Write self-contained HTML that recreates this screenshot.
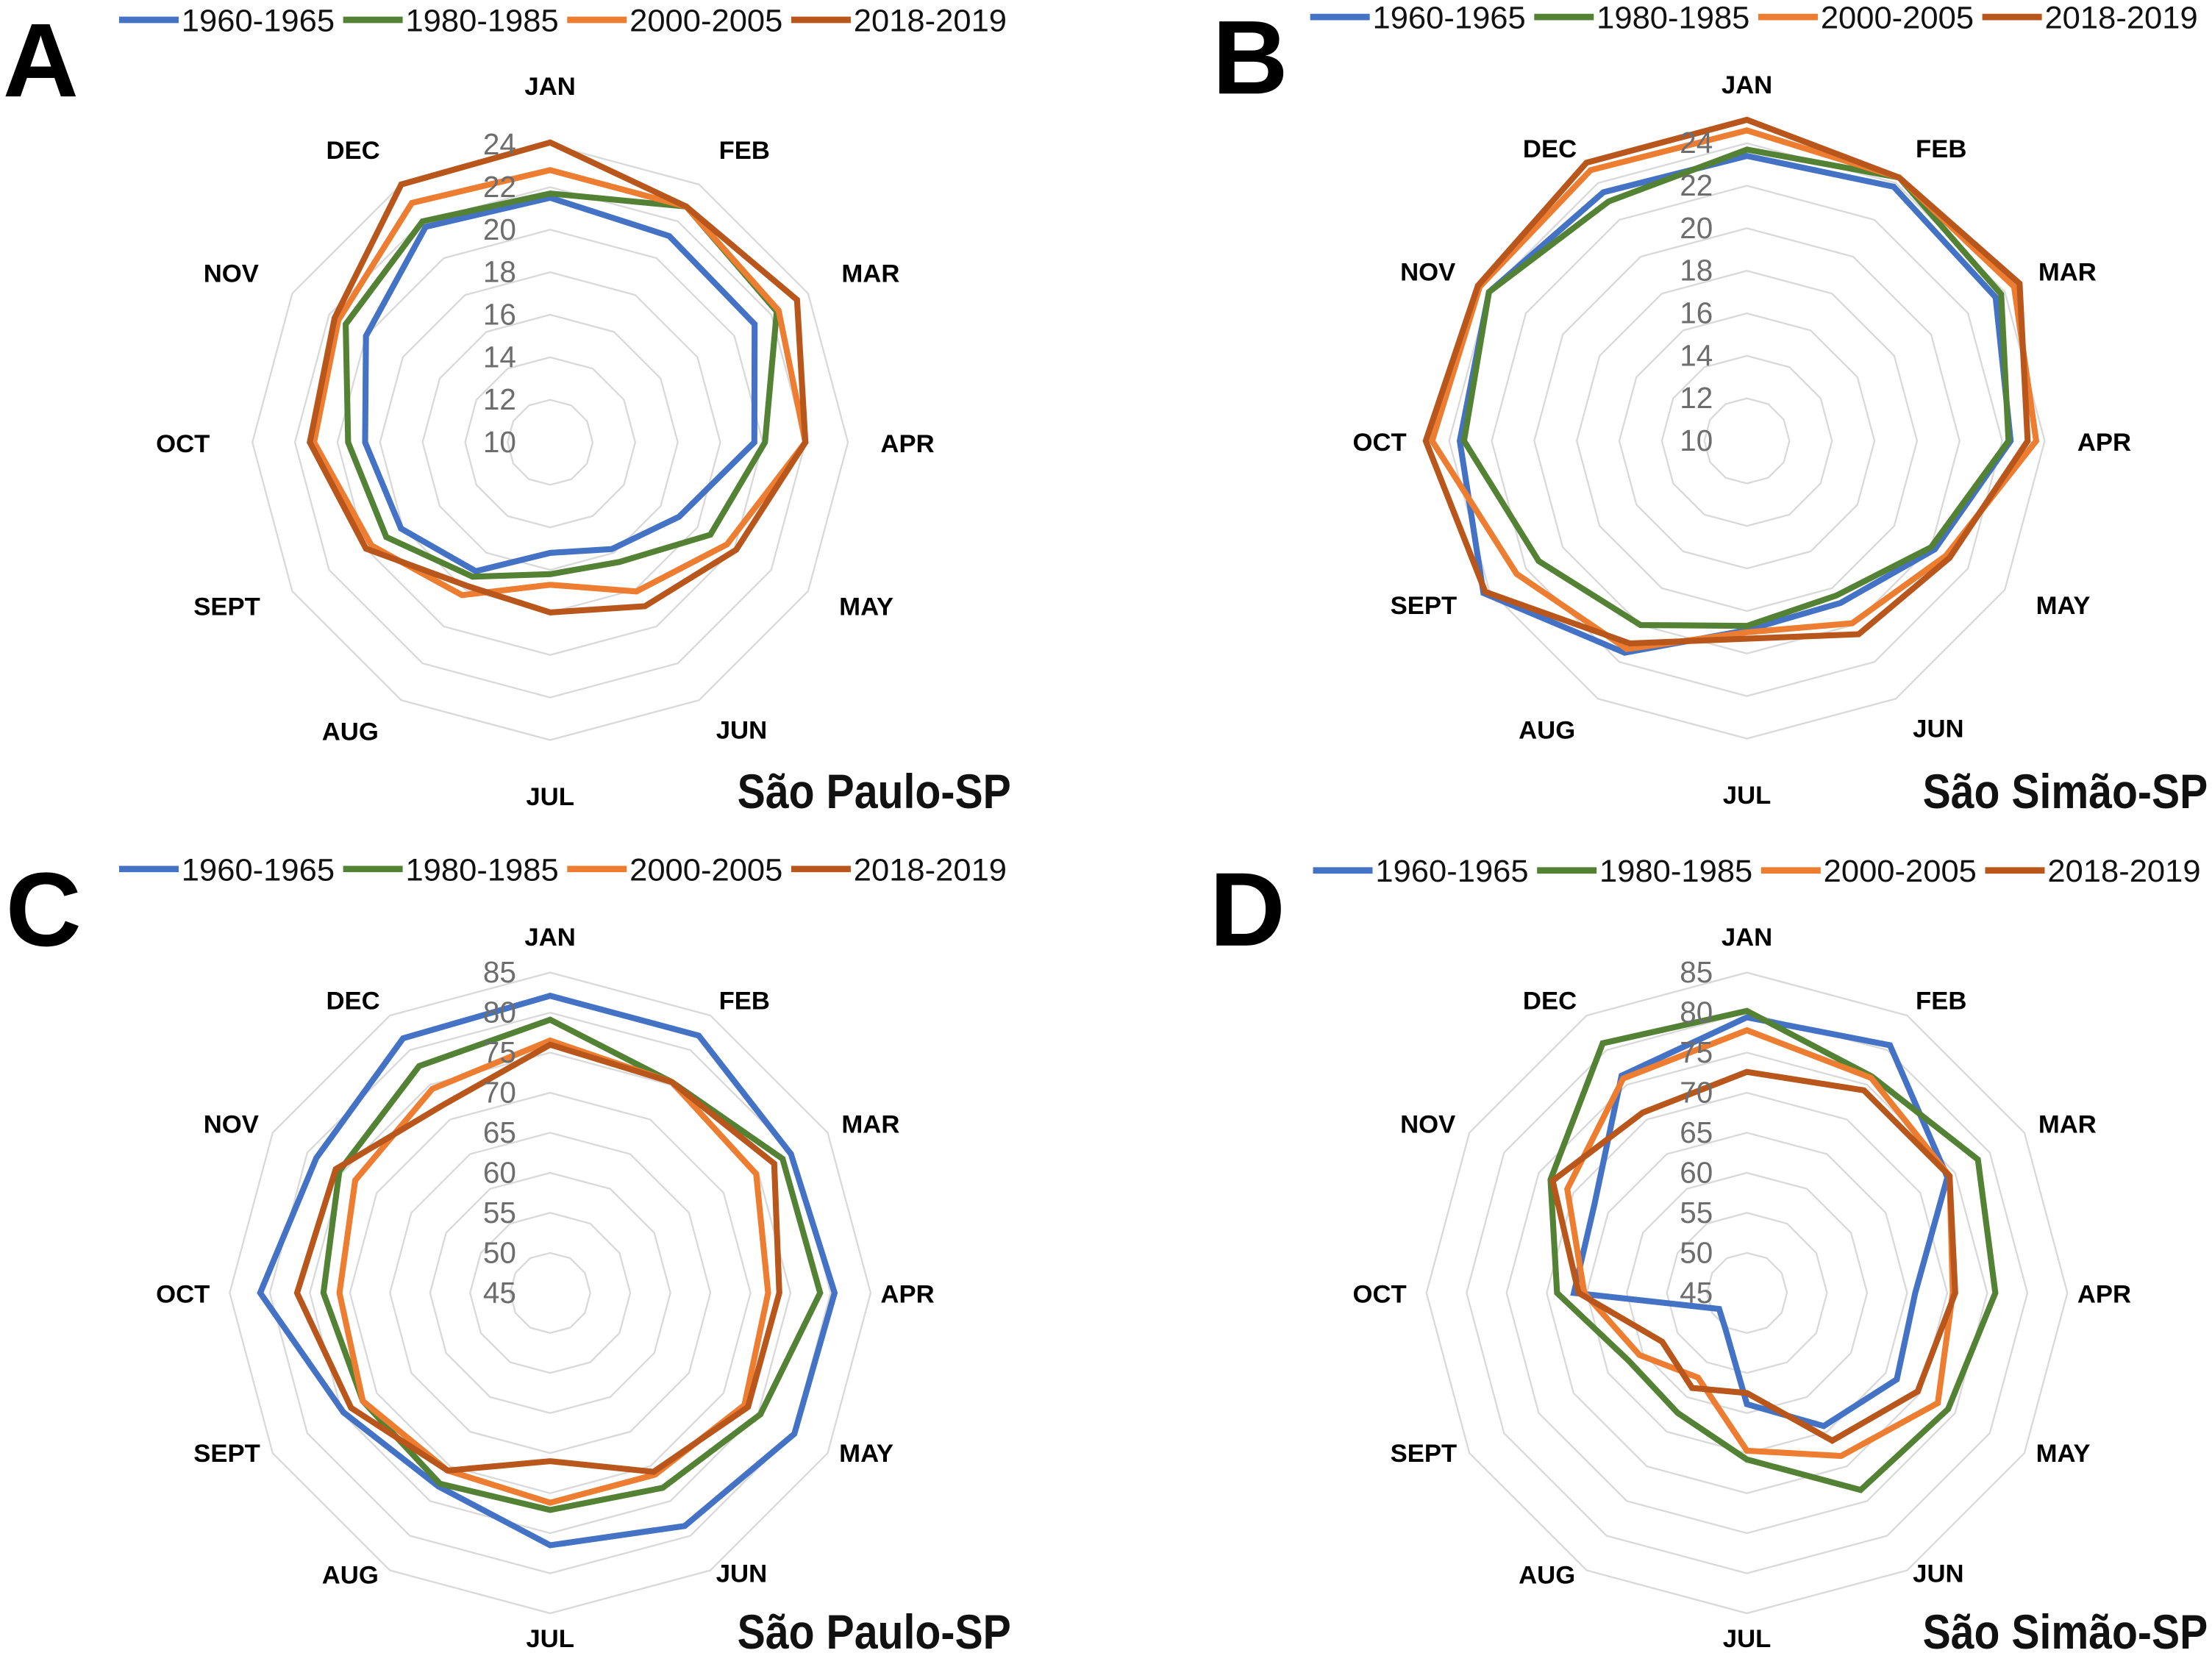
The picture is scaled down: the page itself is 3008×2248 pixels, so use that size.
<!DOCTYPE html>
<html><head><meta charset="utf-8"><style>
html,body{margin:0;padding:0;background:#fff;}
svg{display:block;}
</style></head><body>
<svg id="fig" xmlns="http://www.w3.org/2000/svg" width="3008" height="2248" viewBox="0 0 1560 1166" preserveAspectRatio="none" font-family="'Liberation Sans', sans-serif"></svg>
<script>
const months = ["JAN","FEB","MAR","APR","MAY","JUN","JUL","AUG","SEPT","OCT","NOV","DEC"];
const seriesNames = ["1960-1965","1980-1985","2000-2005","2018-2019"];
const tempTicks = [10,12,14,16,18,20,22,24];
const humTicks = [45,50,55,60,65,70,75,80,85];
const aBlue = [21.5,21.2,21.1,19.6,17.0,15.8,15.2,17.0,18.1,18.7,20.0,21.7];
const aGreen = [21.7,22.8,22.3,20.1,18.7,16.5,16.2,17.3,18.9,19.5,21.1,22.0];
const aOrange = [22.8,22.8,22.4,22.0,19.6,18.1,16.7,18.3,19.7,21.1,21.5,23.0];
const aBrown = [24.1,22.8,23.4,22.0,20.1,18.9,18.0,17.8,20.0,21.3,21.7,24.0];
const bBlue = [23.4,23.8,23.5,22.4,20.2,18.8,18.9,21.5,24.3,23.5,24.0,23.5];
const bGreen = [23.7,24.3,23.8,22.3,20.0,18.4,18.7,20.0,21.3,23.3,24.0,23.0];
const bOrange = [24.6,24.3,24.5,23.6,20.8,19.9,19.0,21.3,22.5,24.8,24.5,24.7];
const bBrown = [25.1,24.3,24.8,23.2,21.0,20.5,19.3,21.0,24.2,25.1,24.6,25.1];
const cBlue = [82.1,82.1,79.7,80.5,80.2,78.6,76.5,72.9,74.8,81.2,78.7,81.7];
const cGreen = [79.1,75.4,78.5,78.7,75.3,73.1,72.1,72.5,72.0,73.3,75.4,77.7];
const cOrange = [76.5,75.4,74.7,72.2,73.0,71.2,71.2,70.6,72.0,71.3,73.1,74.4];
const cBrown = [76.0,75.4,77.3,73.6,73.5,70.8,66.0,70.6,73.7,76.6,75.9,72.0];
const dBlue = [79.4,80.7,73.9,66.0,66.6,64.2,58.9,50.3,49.0,66.6,67.0,76.3];
const dGreen = [80.2,76.2,78.3,76.0,74.0,73.4,65.8,62.3,62.0,68.7,73.3,81.0];
const dOrange = [77.8,76.0,74.2,70.7,72.5,68.5,64.7,57.2,60.5,65.3,70.9,75.9];
const dBrown = [72.6,74.2,74.2,71.0,69.6,66.3,57.5,58.7,57.2,66.0,73.0,71.0];

const colors = ["#4472C4","#548235","#ED7D31","#B8561C"];
// label anchor offsets relative to panel centre (layout, not data)
const labelDX = [0,137,226,252,223,135,0,-141,-228,-259,-225,-139];
const labelDY = [-251,-206,-119,1,116,203,250,204,116,1,-119,-206];
const NS = "http://www.w3.org/2000/svg";
const svg = document.getElementById("fig");
function mk(tag, attrs, parent){
  const e = document.createElementNS(NS, tag);
  for (const k in attrs) e.setAttribute(k, attrs[k]);
  (parent||svg).appendChild(e);
  return e;
}
function panel(cfg){
  const g = mk("g", {});
  
  
  const ticks = cfg.ticks, min = ticks[0], max = ticks[ticks.length-1];
  const rOf = v => (v - min) / (max - min) * cfg.rOuter;
  const pt = (i, r) => { const a = i * Math.PI / 6; return [cfg.cx + r*Math.sin(a), cfg.cy - r*Math.cos(a)]; };
  for (let t = 1; t < ticks.length; t++){
    const r = rOf(ticks[t]);
    const pts = months.map((m,i)=>pt(i,r).map(n=>n.toFixed(1)).join(",")).join(" ");
    const ring = mk("polygon", {points: pts, fill:"none", stroke:"#d9d9d9", "stroke-width":1.2}, g);
    
    
  }
  cfg.series.forEach((vals, s) => {
    const pts = vals.map((v,i)=>pt(i, rOf(v)).map(n=>n.toFixed(1)).join(",")).join(" ");
    const line = mk("polygon", {points: pts, fill:"none", stroke: colors[s], "stroke-width":4.2, "stroke-linejoin":"miter"}, g);
    
    
  });
  ticks.forEach(t => {
    const tx = mk("text", {x: cfg.cx - 24, y: cfg.cy - rOf(t) + 7, "text-anchor":"end", "font-size":21, fill:"#6d6d6d"}, g);
    tx.textContent = t;
    
    
  });
  months.forEach((m,i) => {
    const dy = labelDY[i] > 0 ? labelDY[i] * cfg.lowScale : labelDY[i];
    const tx = mk("text", {x: cfg.cx + labelDX[i], y: cfg.cy + dy + 6, "text-anchor":"middle", "font-size":18, "font-weight":"bold", fill:"#000"}, g);
    tx.textContent = m;
    
    
  });
  const lg = mk("g", {}, g);
  
  
  seriesNames.forEach((n, s) => {
    const x0 = cfg.lx + s*158;
    const ln = mk("line", {x1:x0, y1:cfg.ly, x2:x0+42, y2:cfg.ly, stroke:colors[s], "stroke-width":4.5}, lg);
    
    
    const tx = mk("text", {x:x0+44, y:cfg.ly+8, "font-size":22, fill:"#111", textLength:108, lengthAdjust:"spacingAndGlyphs"}, lg);
    tx.textContent = n;
    
    
  });
  const L = mk("text", {x: cfg.letX, y: cfg.letY, "font-size":74, "font-weight":"bold", fill:"#000"}, g);
  L.textContent = cfg.letter;
  
  
  const T = mk("text", {x: cfg.tx, y: cfg.ty, "text-anchor":"end", "font-size":34, "font-weight":"bold", fill:"#111", textLength: cfg.tw, lengthAdjust:"spacingAndGlyphs"}, g);
  T.textContent = cfg.title;
  
  
}
panel({letter:"A", cx:388, cy:312, rOuter:210, lowScale:1, ticks:tempTicks, series:[aBlue,aGreen,aOrange,aBrown], lx:84, ly:14, letX:2, letY:68, tx:713, ty:570, tw:193, title:"São Paulo-SP"});
panel({letter:"B", cx:1232, cy:311, rOuter:210, lowScale:1, ticks:tempTicks, series:[bBlue,bGreen,bOrange,bBrown], lx:924, ly:12, letX:855, letY:66, tx:1557, ty:570, tw:201, title:"São Simão-SP"});
panel({letter:"C", cx:388, cy:912, rOuter:226, lowScale:0.975, ticks:humTicks, series:[cBlue,cGreen,cOrange,cBrown], lx:84, ly:613, letX:4, letY:667, tx:713, ty:1163, tw:193, title:"São Paulo-SP"});
panel({letter:"D", cx:1232, cy:912, rOuter:226, lowScale:0.975, ticks:humTicks, series:[dBlue,dGreen,dOrange,dBrown], lx:926, ly:614, letX:853, letY:667, tx:1557, ty:1163, tw:201, title:"São Simão-SP"});
</script>
</body></html>
